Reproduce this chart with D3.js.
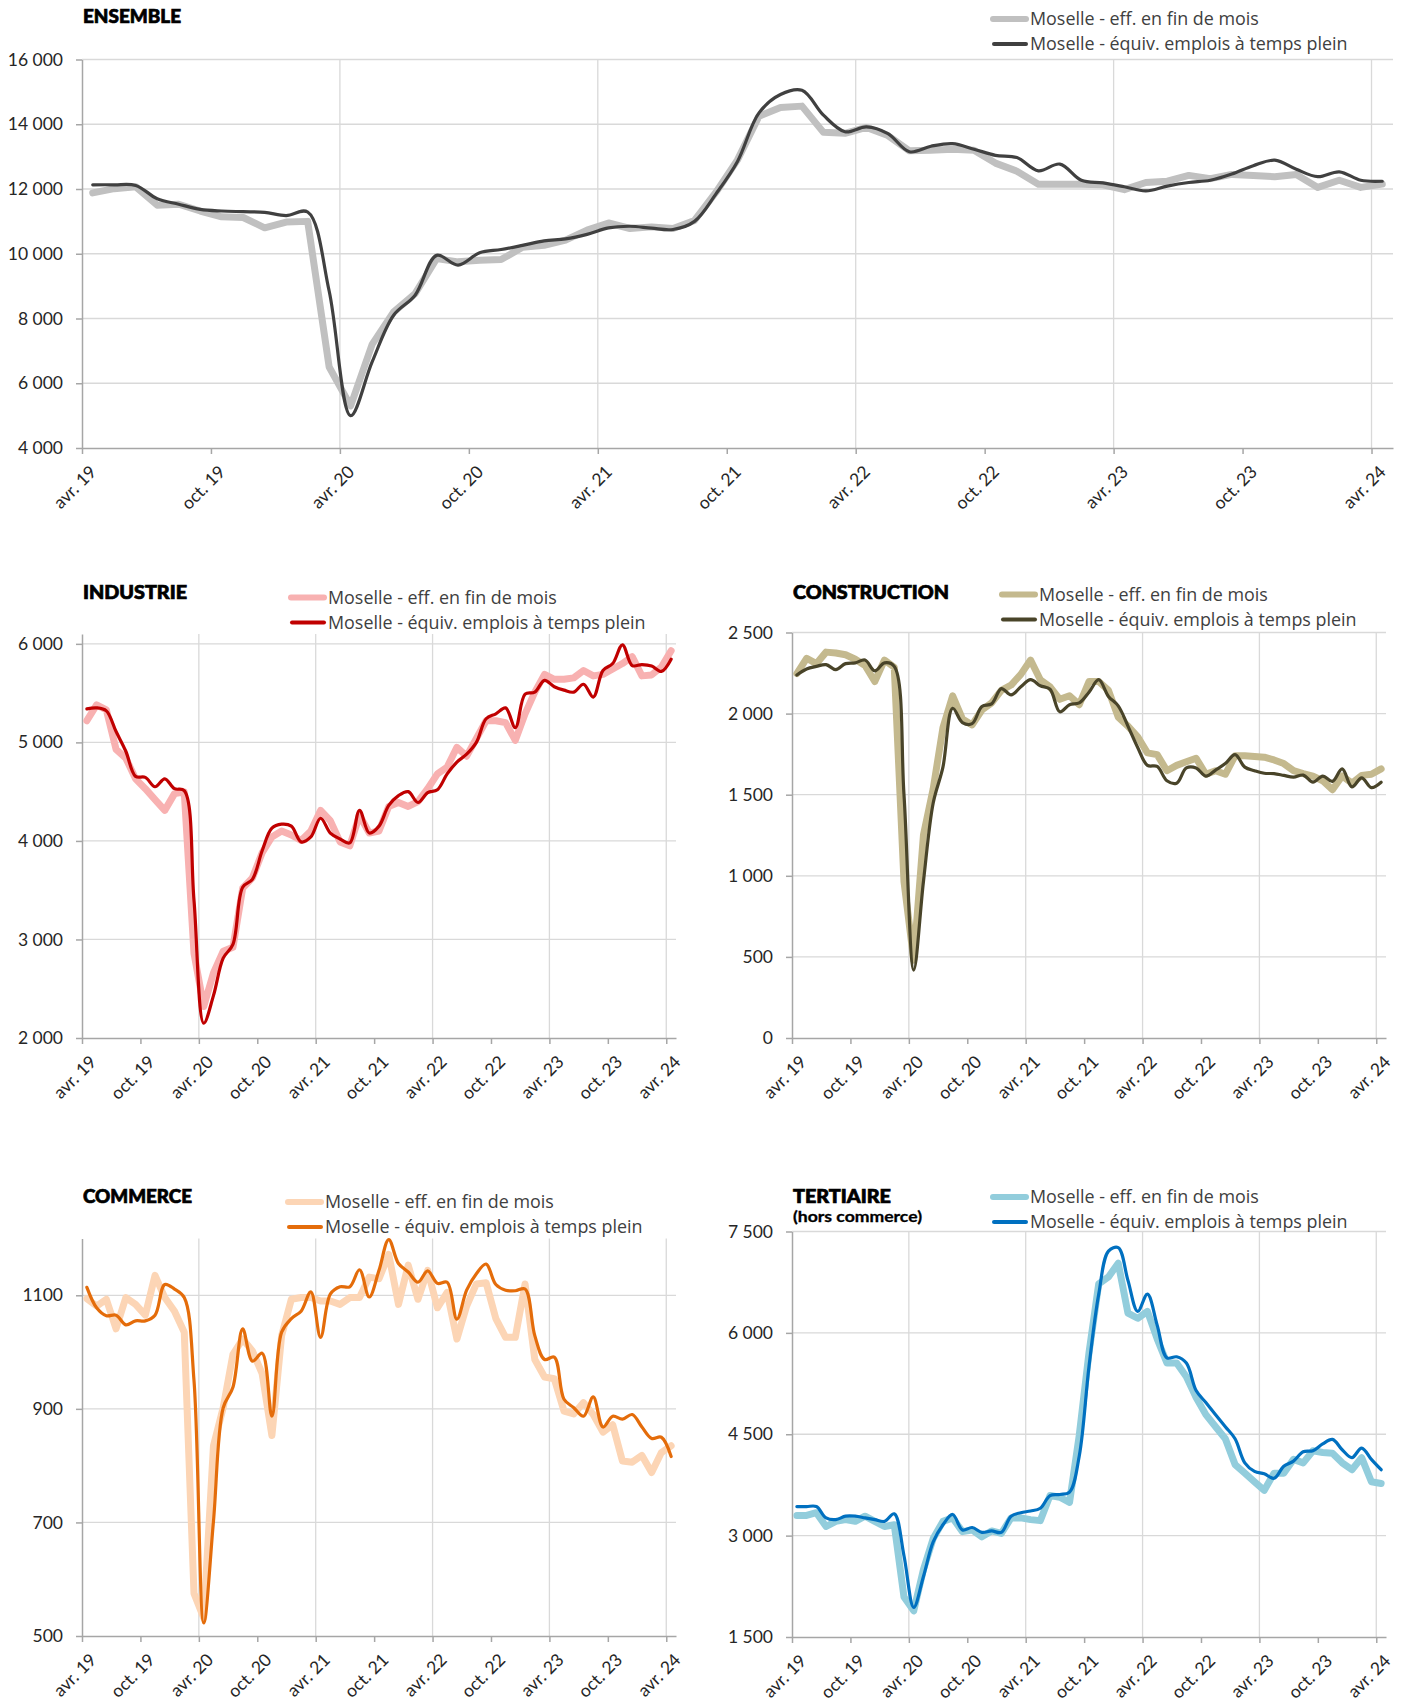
<!DOCTYPE html>
<html>
<head>
<meta charset="utf-8">
<title>Moselle - effectifs</title>
<script src="https://d3js.org/d3.v7.min.js"></script>
<style>
  body { margin: 0; background: #fff; }
  svg { display: block; font-family: Lato, "Open Sans", sans-serif; }
  .grid line { stroke: #d9d9d9; stroke-width: 1.3px; }
  .axis path, .axis line { stroke: #a6a6a6; stroke-width: 1.5px; }
  .axis text { fill: #262626; font-size: 17.5px; font-family: Lato, sans-serif; }
  .titre { font-weight: 900; font-size: 18px; fill: #000; stroke: #000; stroke-width: 0.7px; }
  .soustitre { font-weight: 700; font-size: 15px; fill: #000; stroke: #000; stroke-width: 0.3px; }
  .leg { font-size: 17.9px; fill: #404040; font-family: "Open Sans", sans-serif; }
</style>
</head>
<body>
<svg id="chart" width="1402" height="1700"></svg>
<script>
// libellés de l'axe des x (un tous les 6 mois, avr. 19 -> avr. 24)
var moisLabels = ["avr. 19", "oct. 19", "avr. 20", "oct. 20", "avr. 21", "oct. 21",
                  "avr. 22", "oct. 22", "avr. 23", "oct. 23", "avr. 24"];
var legEff = "Moselle - eff. en fin de mois",
    legEtp = "Moselle - équiv. emplois à temps plein";

// ENSEMBLE (61 mois, avr. 2019 -> avr. 2024)
var ensembleEff = [11880, 12010, 12070, 11500, 11530, 11320, 11140, 11120, 10800, 10980, 11000,
  6500, 5300, 7200, 8200, 8770, 9850, 9750, 9800, 9820, 10200,
  10260, 10420, 10730, 10950, 10780, 10830, 10780, 11030, 11900, 12900,
  14250, 14520, 14560, 13750, 13720, 13900, 13650, 13180, 13200, 13230,
  13200, 12800, 12550, 12150, 12150, 12150, 12130, 11980, 12200, 12240,
  12420, 12320, 12450, 12420, 12380, 12450, 12050, 12270, 12050, 12150];
var ensembleEtp = [12130, 12130, 12110, 11700, 11530, 11370, 11320, 11300, 11280, 11180, 11290,
  8850, 5000, 6660, 8100, 8720, 9950, 9650, 10030, 10130, 10260,
  10400, 10460, 10600, 10800, 10850, 10790, 10750, 11000, 11850, 12850,
  14350, 14920, 15050, 14280, 13770, 13920, 13710, 13150, 13320, 13400,
  13230, 13040, 12970, 12560, 12770, 12270, 12190, 12070, 11940, 12090,
  12200, 12270, 12460, 12720, 12890, 12610, 12380, 12530, 12270, 12240];

// INDUSTRIE
var industrieEff = [5220, 5380, 5330, 4930, 4840, 4630, 4530, 4420, 4310, 4480, 4495,
  2860, 2320, 2660, 2880, 2920, 3520, 3625, 3880, 4040, 4100,
  4060, 4005, 4100, 4310, 4205, 3990, 3950, 4260, 4080, 4100,
  4350, 4390, 4350, 4400, 4530, 4680, 4750, 4950, 4860, 5040,
  5220, 5220, 5200, 5020, 5290, 5510, 5690, 5640, 5640, 5655,
  5730, 5675, 5690, 5745, 5800, 5870, 5675, 5685, 5765, 5930];
var industrieEtp = [5340, 5350, 5320, 5110, 4910, 4655, 4645, 4550, 4630, 4530, 4510,
  3400, 2150, 2430, 2810, 2950, 3530, 3610, 3900, 4130, 4170,
  4150, 3990, 4040, 4230, 4080, 4020, 3980, 4310, 4080, 4150,
  4360, 4460, 4500, 4390, 4490, 4520, 4680, 4800, 4880, 5000,
  5240, 5290, 5350, 5150, 5490, 5510, 5630, 5565, 5530, 5510,
  5590, 5460, 5730, 5800, 5990, 5780, 5790, 5775, 5720, 5845];

// CONSTRUCTION
var constructionEff = [2247, 2341, 2308, 2379, 2374, 2363, 2335, 2297, 2198, 2330, 2286,
  965, 480, 1251, 1537, 1912, 2110, 1967, 1930, 2022, 2066,
  2143, 2176, 2242, 2330, 2209, 2165, 2088, 2110, 2055, 2198,
  2198, 2143, 1978, 1923, 1857, 1758, 1747, 1648, 1681, 1703,
  1725, 1626, 1648, 1626, 1740, 1740, 1736, 1731, 1714, 1692,
  1648, 1630, 1615, 1586, 1531, 1615, 1571, 1619, 1626, 1659];
var constructionEtp = [2238, 2275, 2291, 2302, 2271, 2308, 2313, 2330, 2264, 2313, 2291,
  1500, 419, 965, 1449, 1670, 2033, 1945, 1938, 2044, 2060,
  2154, 2115, 2165, 2209, 2172, 2150, 2011, 2055, 2066, 2132,
  2209, 2106, 2048, 1923, 1791, 1681, 1674, 1586, 1571, 1665,
  1665, 1615, 1652, 1692, 1747, 1670, 1648, 1632, 1630, 1619,
  1608, 1621, 1577, 1615, 1582, 1659, 1548, 1604, 1544, 1577];

// COMMERCE
var commerceEff = [1094, 1081, 1093, 1041, 1096, 1084, 1065, 1135, 1096, 1072, 1035,
  575, 532, 835, 902, 996, 1023, 1002, 962, 853, 1029,
  1093, 1096, 1096, 1090, 1090, 1084, 1096, 1096, 1132, 1129,
  1172, 1084, 1153, 1093, 1144, 1078, 1105, 1023, 1081, 1120,
  1122, 1059, 1026, 1026, 1120, 987, 956, 953, 896, 891,
  911, 890, 859, 872, 808, 806, 818, 788, 823, 835];
var commerceEtp = [1114, 1078, 1064, 1065, 1048, 1055, 1055, 1065, 1119, 1111, 1096,
  950, 523, 702, 902, 938, 1041, 984, 998, 887, 1035,
  1059, 1072, 1106, 1026, 1102, 1115, 1115, 1145, 1097, 1144,
  1198, 1156, 1141, 1123, 1143, 1121, 1123, 1058, 1109, 1138,
  1155, 1119, 1109, 1108, 1111, 1029, 987, 991, 917, 902,
  887, 921, 868, 887, 882, 890, 868, 848, 850, 816];

// TERTIAIRE (hors commerce)
var tertiaireEff = [3298, 3298, 3339, 3135, 3211, 3237, 3211, 3288, 3211, 3135, 3160,
  2091, 1887, 2498, 2957, 3211, 3262, 3059, 3084, 2982, 3069,
  3033, 3262, 3262, 3237, 3222, 3593, 3568, 3492, 4485, 5707,
  6726, 6828, 7031, 6293, 6216, 6318, 5911, 5554, 5554, 5351,
  5045, 4790, 4612, 4434, 4052, 3924, 3797, 3670, 3924, 3924,
  4128, 4077, 4256, 4230, 4220, 4077, 3975, 4154, 3797, 3772];
var tertiaireEtp = [3430, 3430, 3430, 3262, 3237, 3288, 3288, 3262, 3237, 3211, 3323,
  2702, 1938, 2396, 2906, 3160, 3313, 3084, 3120, 3048, 3069,
  3048, 3288, 3339, 3364, 3405, 3593, 3609, 3644, 4179, 5503,
  6573, 7210, 7261, 6777, 6318, 6573, 6115, 5631, 5646, 5554,
  5147, 4969, 4790, 4612, 4434, 4077, 3950, 3914, 3848, 4026,
  4103, 4240, 4256, 4357, 4424, 4271, 4154, 4296, 4128, 3975];

// graduations des axes y
var ensembleTicks = [4000, 6000, 8000, 10000, 12000, 14000, 16000];
var industrieTicks = [2000, 3000, 4000, 5000, 6000];
var constructionTicks = [0, 500, 1000, 1500, 2000, 2500];
var commerceTicks = [500, 700, 900, 1100];
var tertiaireTicks = [1500, 3000, 4500, 6000, 7500];

var fr = d3.formatLocale({decimal: ",", thousands: " ", grouping: [3], currency: ["", " €"]});
var fmtMilliers = fr.format(",d");
var fmtSimple = d3.format("d");

var svg = d3.select("#chart");

function panneau(cfg) {
  var g = svg.append("g");
  var n = cfg.eff.length;

  var x = d3.scaleLinear().domain([0, n]).range([cfg.left, cfg.right]);
  var y = d3.scaleLinear().domain(cfg.domain).range([cfg.bottom, cfg.top]);

  // quadrillage horizontal
  g.append("g").attr("class", "grid")
    .selectAll("line")
    .data(cfg.ticks.slice(1))
    .enter().append("line")
      .attr("x1", cfg.left).attr("x2", cfg.right)
      .attr("y1", d => y(d)).attr("y2", d => y(d));

  // quadrillage vertical (chaque avril)
  g.append("g").attr("class", "grid")
    .selectAll("line")
    .data(d3.range(12, n, 12))
    .enter().append("line")
      .attr("x1", d => x(d)).attr("x2", d => x(d))
      .attr("y1", cfg.top).attr("y2", cfg.bottom);

  // axe y
  g.append("g").attr("class", "axis")
    .attr("transform", "translate(" + cfg.left + ",0)")
    .call(d3.axisLeft(y).tickValues(cfg.ticks).tickSize(6).tickSizeOuter(0)
      .tickPadding(13).tickFormat(cfg.fmt));

  // axe x
  var ax = g.append("g").attr("class", "axis")
    .attr("transform", "translate(0," + cfg.bottom + ")")
    .call(d3.axisBottom(x).tickValues(d3.range(0, n, 6)).tickSize(6).tickSizeOuter(0)
      .tickFormat((d, i) => moisLabels[i]));
  ax.selectAll("text")
    .attr("x", 0).attr("y", 0).attr("dy", 0)
    .attr("text-anchor", "end")
    .attr("transform", "translate(15,25) rotate(-45)");

  var ligneEff = d3.line()
    .x((d, i) => x(i + 0.5))
    .y(d => y(d));
  var ligneEtp = d3.line()
    .x((d, i) => x(i + 0.5))
    .y(d => y(d))
    .curve(d3.curveCatmullRom.alpha(0.5));

  g.append("path").datum(cfg.eff)
    .attr("d", ligneEff)
    .attr("fill", "none")
    .attr("stroke", cfg.colEff)
    .attr("stroke-width", 7)
    .attr("stroke-linejoin", "round")
    .attr("stroke-linecap", "round");
  g.append("path").datum(cfg.etp)
    .attr("d", ligneEtp)
    .attr("fill", "none")
    .attr("stroke", cfg.colEtp)
    .attr("stroke-width", 3.2)
    .attr("stroke-linejoin", "round")
    .attr("stroke-linecap", "round");

  // titre
  g.append("text").attr("class", "titre")
    .attr("x", cfg.left + 1).attr("y", cfg.titleY)
    .attr("textLength", cfg.titleW).attr("lengthAdjust", "spacingAndGlyphs")
    .text(cfg.title);
  if (cfg.subtitle) {
    g.append("text").attr("class", "soustitre")
      .attr("x", cfg.left + 1).attr("y", cfg.titleY + 19)
      .attr("textLength", 129).attr("lengthAdjust", "spacingAndGlyphs")
      .text(cfg.subtitle);
  }

  // légende
  var leg = g.append("g");
  leg.append("line")
    .attr("x1", cfg.legX).attr("x2", cfg.legX + 33)
    .attr("y1", cfg.legY).attr("y2", cfg.legY)
    .attr("stroke", cfg.colEff).attr("stroke-width", 6).attr("stroke-linecap", "round");
  leg.append("line")
    .attr("x1", cfg.legX + 1).attr("x2", cfg.legX + 33)
    .attr("y1", cfg.legY + 25).attr("y2", cfg.legY + 25)
    .attr("stroke", cfg.colEtp).attr("stroke-width", 4).attr("stroke-linecap", "round");
  leg.append("text").attr("class", "leg")
    .attr("x", cfg.legX + 37).attr("y", cfg.legY).attr("dy", "0.36em")
    .text(legEff);
  leg.append("text").attr("class", "leg")
    .attr("x", cfg.legX + 37).attr("y", cfg.legY + 25).attr("dy", "0.36em")
    .text(legEtp);
}

panneau({title: "ENSEMBLE", titleW: 98, titleY: 23,
  left: 82, right: 1393, top: 59.5, bottom: 448,
  domain: [4000, 16000], ticks: ensembleTicks, fmt: fmtMilliers,
  eff: ensembleEff, etp: ensembleEtp, colEff: "#c0c0c0", colEtp: "#404040",
  legX: 993, legY: 19});

panneau({title: "INDUSTRIE", titleW: 104, titleY: 599,
  left: 82, right: 676, top: 634, bottom: 1038,
  domain: [2000, 6100], ticks: industrieTicks, fmt: fmtMilliers,
  eff: industrieEff, etp: industrieEtp, colEff: "#f8b1b1", colEtp: "#c00000",
  legX: 291, legY: 597.5});

panneau({title: "CONSTRUCTION", titleW: 156, titleY: 599,
  left: 792, right: 1386, top: 632.5, bottom: 1038,
  domain: [0, 2500], ticks: constructionTicks, fmt: fmtMilliers,
  eff: constructionEff, etp: constructionEtp, colEff: "#c4b98e", colEtp: "#494429",
  legX: 1002, legY: 594.5});

panneau({title: "COMMERCE", titleW: 109, titleY: 1203,
  left: 82, right: 676, top: 1238.5, bottom: 1636,
  domain: [500, 1200], ticks: commerceTicks, fmt: fmtSimple,
  eff: commerceEff, etp: commerceEtp, colEff: "#fcd5b5", colEtp: "#e46c0a",
  legX: 288, legY: 1202});

panneau({title: "TERTIAIRE", titleW: 98, subtitle: "(hors commerce)", titleY: 1203,
  left: 792, right: 1386, top: 1231.5, bottom: 1637,
  domain: [1500, 7500], ticks: tertiaireTicks, fmt: fmtMilliers,
  eff: tertiaireEff, etp: tertiaireEtp, colEff: "#92cddc", colEtp: "#0070c0",
  legX: 993, legY: 1197});
</script>
</body>
</html>
